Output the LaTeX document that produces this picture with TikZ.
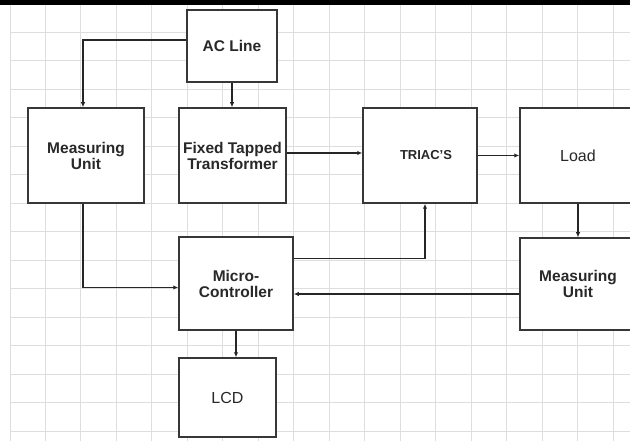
\documentclass[tikz,border=0pt]{standalone}
\usepackage{fontspec}
\setmainfont{Liberation Sans}
\usetikzlibrary{arrows.meta,calc}
\definecolor{gridc}{RGB}{222,222,222}
\definecolor{boxc}{RGB}{55,55,55}
\definecolor{txtc}{RGB}{40,40,40}
\tikzset{
  blockbox/.style={draw=boxc, line width=1.5pt, fill=white, inner sep=0pt, align=center,
    text=txtc, font=\fontsize{15.5}{16}\selectfont\bfseries},
  conn/.style={draw=black!85, line width=1.1pt, -{Latex[length=5pt,width=4.5pt]}},
}
\begin{document}
\begin{tikzpicture}[x=1pt,y=-1pt]
\useasboundingbox (0,0) rectangle (630,441);
\clip (0,0) rectangle (630,441);
\fill[white] (0,0) rectangle (630,441);
% grid
\foreach \gx in {45,80.5,...,630} \draw[gridc, line width=0.8pt] (\gx,5) -- (\gx,441);
\foreach \gy in {32,60.5,...,441} \draw[gridc, line width=0.8pt] (10,\gy) -- (630,\gy);
\draw[gridc, line width=0.8pt] (10,5) -- (10,441);
\fill[black] (0,0) rectangle (630,5);
% blocks
\node[blockbox, minimum width=90pt, minimum height=72pt] (ac) at (232,46) {AC Line};
\node[blockbox, minimum width=116pt, minimum height=95pt] (mu1) at (86,155.5) {Measuring\\Unit};
\node[blockbox, minimum width=107pt, minimum height=95pt] (ftt) at (232.5,155.5) {Fixed Tapped\\Transformer};
\node[blockbox, minimum width=114pt, minimum height=95pt, font=\fontsize{13}{14}\selectfont\bfseries] (triac) at (420,155.5) {\hspace{12pt}TRIAC'S};
\node[blockbox, minimum width=116pt, minimum height=95pt, font=\fontsize{16}{17}\selectfont] (load) at (578,155.5) {Load};
\node[blockbox, minimum width=114pt, minimum height=93pt] (mc) at (236,283.5) {Micro-\\Controller};
\node[blockbox, minimum width=97pt, minimum height=79pt, font=\fontsize{16}{17}\selectfont] (lcd) at (227.5,397.5) {LCD};
\node[blockbox, minimum width=116pt, minimum height=92pt] (mu2) at (578,284) {Measuring\\Unit};
% connectors
\draw[conn] ([yshift=6pt]ac.west) -| ([xshift=-3pt]mu1.north);
\draw[conn] (ac.south) -- (ac.south |- ftt.north);
\draw[conn] ([yshift=2.5pt]ftt.east) -- ([yshift=2.5pt]ftt.east -| triac.west);
\draw[conn] (triac.east) -- (triac.east -| load.west);
\draw[conn] (load.south) -- (mu2.north);
\draw[conn] ([yshift=-10pt]mu2.west) -- ([yshift=-10pt]mu2.west -| mc.east);
\draw[conn] ([yshift=25pt]mc.east) -| ([xshift=5pt]triac.south);
\draw[conn] ([xshift=-3pt]mu1.south) |- ([yshift=-4pt]mc.west);
\draw[conn] (mc.south) -- (mc.south |- lcd.north);
\end{tikzpicture}
\end{document}
